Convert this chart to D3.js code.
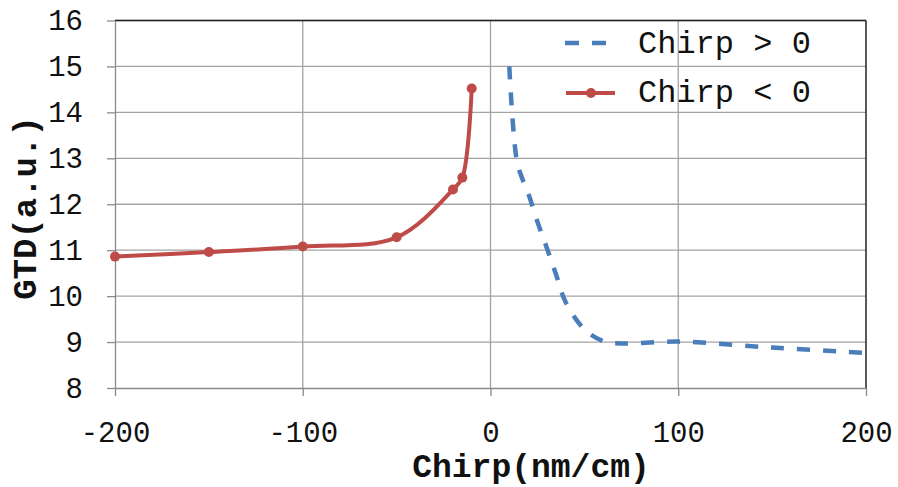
<!DOCTYPE html>
<html>
<head>
<meta charset="utf-8">
<script src="https://cdn.jsdelivr.net/npm/d3@7"></script>
<style>
  html, body { margin: 0; padding: 0; background: #fff; }
  svg { display: block; }
</style>
</head>
<body>
<svg id="chart" width="898" height="487"></svg>
<script>
// ---- data ----
const negChirp = [-200, -150, -100, -50, -20, -15, -10];
const negGTD   = [10.86, 10.96, 11.08, 11.28, 12.32, 12.58, 14.52];

const posChirp = [10, 14, 17, 20, 25, 30, 35, 40, 50, 60, 70, 100, 150, 200];
const posGTD   = [15.0, 12.95, 12.55, 12.25, 11.62, 11.05, 10.46, 9.87, 9.28, 9.02, 8.97, 9.01, 8.88, 8.76];

const xTicks = [-200, -100, 0, 100, 200];
const yTicks = [8, 9, 10, 11, 12, 13, 14, 15, 16];

const seriesNames = ["Chirp > 0", "Chirp < 0"];
const xTitle = "Chirp(nm/cm)";
const yTitle = "GTD(a.u.)";

// ---- layout ----
const svg = d3.select("#chart");
const pLeft = 115, pRight = 866, pTop = 20.5, pBottom = 388;
const x = d3.scaleLinear().domain([-200, 200]).range([pLeft, pRight]);
const y = d3.scaleLinear().domain([8, 16]).range([pBottom, pTop]);

const blue = "#4a7ebb", red = "#be4b48", grid = "#a3a3a3";
const font = "'Liberation Mono', 'Courier New', monospace";

// gridlines
svg.append("g").selectAll("line").data(yTicks.filter(d => d > 8))
  .join("line")
  .attr("x1", pLeft).attr("x2", pRight)
  .attr("y1", d => y(d)).attr("y2", d => y(d))
  .attr("stroke", grid).attr("stroke-width", 1.3);
svg.append("g").selectAll("line").data(xTicks.filter(d => d > -200 && d < 200))
  .join("line")
  .attr("x1", d => x(d)).attr("x2", d => x(d))
  .attr("y1", pTop).attr("y2", pBottom)
  .attr("stroke", grid).attr("stroke-width", 1.3);

// plot border top/right
svg.append("line").attr("x1", pLeft).attr("x2", pRight).attr("y1", pTop).attr("y2", pTop)
  .attr("stroke", "#222").attr("stroke-width", 1.3);
svg.append("line").attr("x1", pRight).attr("x2", pRight).attr("y1", pTop).attr("y2", pBottom)
  .attr("stroke", "#222").attr("stroke-width", 1.5);

// axes
const yAxis = svg.append("g").attr("transform", `translate(${pLeft},0)`)
  .call(d3.axisLeft(y).tickValues(yTicks).tickSize(8).tickPadding(24).tickSizeOuter(0));
const xAxis = svg.append("g").attr("transform", `translate(0,${pBottom})`)
  .call(d3.axisBottom(x).tickValues(xTicks).tickSize(8).tickPadding(25).tickSizeOuter(0)
    .tickFormat(d => (d < 0 ? "-" + Math.abs(d) : d)));
[xAxis, yAxis].forEach(g => {
  g.select(".domain").attr("stroke", "#8a8a8a").attr("stroke-width", 1.3);
  g.selectAll(".tick line").attr("stroke", "#8a8a8a").attr("stroke-width", 1.3);
  g.selectAll(".tick text").attr("font-family", font).attr("font-size", 29).attr("fill", "#111");
});

// titles
svg.append("text").attr("x", 531).attr("y", 477).attr("text-anchor", "middle")
  .attr("font-family", font).attr("font-weight", "bold").attr("font-size", 33).attr("fill", "#111")
  .text(xTitle);
svg.append("text").attr("transform", "translate(36,208) rotate(-90)").attr("text-anchor", "middle")
  .attr("font-family", font).attr("font-weight", "bold").attr("font-size", 34).attr("fill", "#111")
  .text(yTitle);

// lines
const line = d3.line().x(d => x(d[0])).y(d => y(d[1])).curve(d3.curveCatmullRom.alpha(0.5));
const posData = posChirp.map((c, i) => [c, posGTD[i]]);
const negData = negChirp.map((c, i) => [c, negGTD[i]]);

svg.append("path").attr("d", line(posData)).attr("fill", "none")
  .attr("stroke", blue).attr("stroke-width", 4.5).attr("stroke-dasharray", "13,13");

svg.append("path").attr("d", line(negData)).attr("fill", "none")
  .attr("stroke", red).attr("stroke-width", 4);
svg.append("g").selectAll("circle").data(negData).join("circle")
  .attr("cx", d => x(d[0])).attr("cy", d => y(d[1])).attr("r", 5).attr("fill", red);

// legend
const lg = svg.append("g");
lg.append("line").attr("x1", 565).attr("x2", 608).attr("y1", 43).attr("y2", 43)
  .attr("stroke", blue).attr("stroke-width", 4.5).attr("stroke-dasharray", "14,13");
lg.append("line").attr("x1", 566).attr("x2", 615).attr("y1", 93).attr("y2", 93)
  .attr("stroke", red).attr("stroke-width", 4);
lg.append("circle").attr("cx", 591).attr("cy", 93).attr("r", 5).attr("fill", red);
lg.selectAll("text").data(seriesNames).join("text")
  .attr("x", 638).attr("y", (d, i) => 53 + i * 49)
  .attr("font-family", font).attr("font-size", 32).attr("fill", "#111")
  .text(d => d);
</script>
</body>
</html>
